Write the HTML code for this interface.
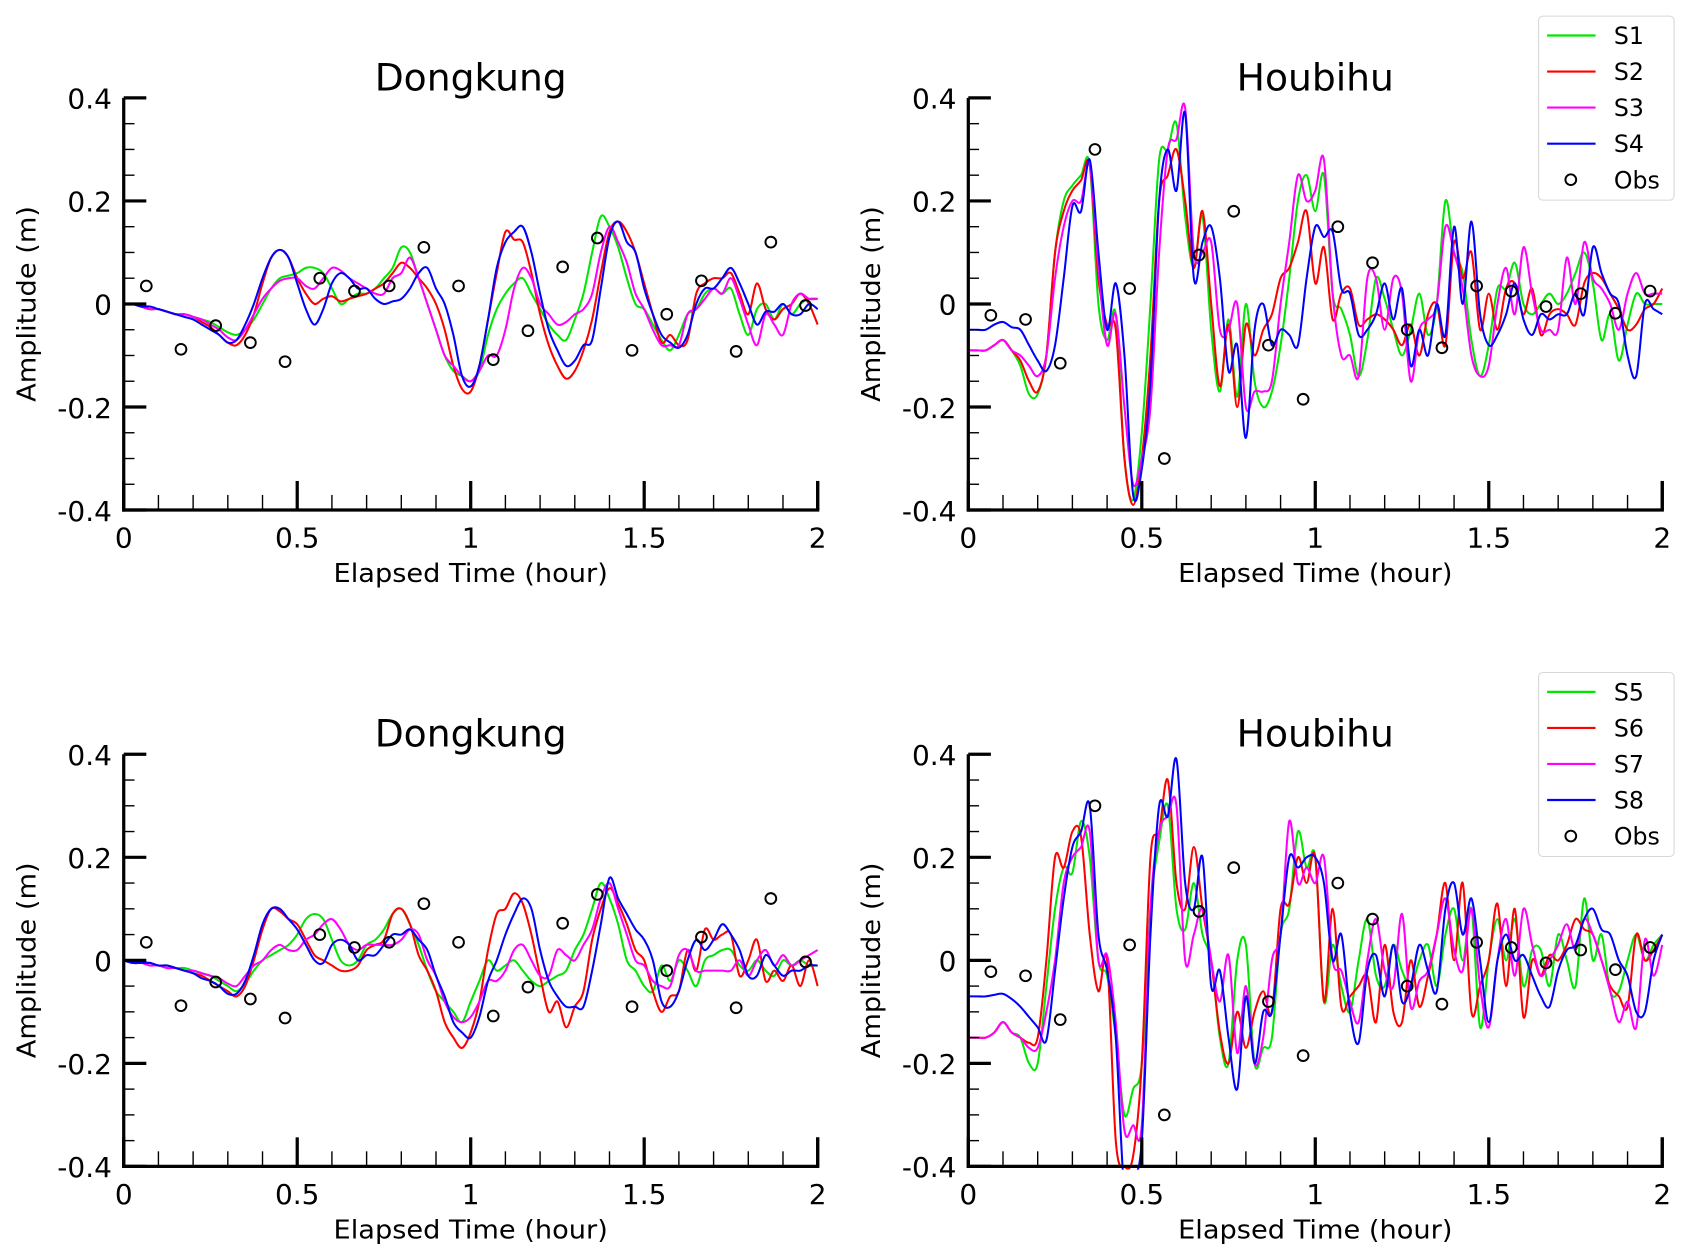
<!DOCTYPE html>
<html><head><meta charset="utf-8"><style>
html,body{margin:0;padding:0;background:#fff}
svg{display:block}
text{font-family:"DejaVu Sans","Liberation Sans",sans-serif;fill:#000}
</style></head><body>
<svg id="chart" width="1687" height="1260" viewBox="0 0 1568 1171" preserveAspectRatio="none" xmlns="http://www.w3.org/2000/svg">
<defs>
<clipPath id="clipTop"><rect x="115" y="88" width="648" height="389"/></clipPath>
<clipPath id="clipBot"><rect x="115" y="698" width="648" height="389"/></clipPath>
<clipPath id="clipTopR"><rect x="900" y="88" width="648" height="389"/></clipPath>
<clipPath id="clipBotR"><rect x="900" y="698" width="648" height="389"/></clipPath>
</defs>
</svg>
<script>
// ---- data ----
const dt = 0.025;
const obsTimes = [0.065,0.165,0.265,0.365,0.465,0.565,0.665,0.765,0.865,0.965,1.065,1.165,1.265,1.365,1.465,1.565,1.665,1.765,1.865,1.965];
const obsDongkung = [0.035,-0.088,-0.042,-0.075,-0.112,0.05,0.025,0.035,0.11,0.035,-0.108,-0.052,0.072,0.128,-0.09,-0.02,0.045,-0.092,0.12,-0.003];
const obsHoubihu = [-0.022,-0.03,-0.115,0.3,0.03,-0.3,0.095,0.18,-0.08,-0.185,0.15,0.08,-0.05,-0.085,0.035,0.025,-0.005,0.02,-0.018,0.025];
const xTicks = [0,0.5,1,1.5,2];
const xTickLabels = ["0","0.5","1","1.5","2"];
const yTicks = [0.4,0.2,0,-0.2,-0.4];
const yTickLabels = ["0.4","0.2","0","-0.2","-0.4"];

const dkS1 = [0,0,-0.005,-0.01,-0.01,-0.015,-0.02,-0.02,-0.025,-0.03,
 -0.035,-0.045,-0.055,-0.06,-0.05,-0.03,0.0,0.03,0.05,0.055,
 0.06,0.07,0.07,0.06,0.03,0.0,0.01,0.02,0.02,0.03,
 0.05,0.07,0.11,0.1,0.05,0.0,-0.05,-0.1,-0.13,-0.14,
 -0.15,-0.13,-0.06,-0.01,0.02,0.04,0.05,0.02,-0.01,-0.04,
 -0.06,-0.07,-0.03,0.02,0.1,0.17,0.15,0.11,0.05,0.0,
 -0.01,-0.04,-0.07,-0.09,-0.06,-0.02,-0.01,0.02,0.03,0.02,
 0.03,-0.02,-0.06,-0.01,0.0,-0.03,0.0,-0.02,0.0,0.01,0.01];
const dkS2 = [0,0,-0.005,-0.01,-0.01,-0.015,-0.02,-0.02,-0.025,-0.035,
 -0.045,-0.06,-0.075,-0.08,-0.06,-0.02,0.04,0.09,0.105,0.09,
 0.05,0.02,0.0,0.01,0.015,0.005,0.01,0.015,0.02,0.03,
 0.04,0.06,0.08,0.07,0.05,0.03,0.0,-0.05,-0.12,-0.165,
 -0.17,-0.12,-0.03,0.06,0.14,0.125,0.12,0.06,-0.02,-0.08,
 -0.12,-0.145,-0.13,-0.09,-0.03,0.06,0.14,0.16,0.14,0.1,
 0.04,-0.02,-0.075,-0.06,-0.08,-0.07,0.02,0.04,0.05,0.05,
 0.06,0.02,-0.02,0.04,-0.01,-0.03,-0.01,0.0,0.02,0.0,-0.04];
const dkS3 = [0,0,-0.005,-0.01,-0.01,-0.015,-0.02,-0.02,-0.025,-0.03,
 -0.04,-0.05,-0.065,-0.07,-0.05,-0.02,0.01,0.03,0.045,0.05,
 0.05,0.035,0.03,0.05,0.07,0.065,0.05,0.04,0.03,0.02,
 0.02,0.05,0.06,0.09,0.05,0.0,-0.05,-0.1,-0.12,-0.14,
 -0.15,-0.13,-0.1,-0.1,-0.05,0.03,0.07,0.05,0.0,-0.02,
 -0.04,-0.035,-0.02,-0.01,0.02,0.1,0.15,0.12,0.08,0.02,
 -0.01,-0.05,-0.08,-0.08,-0.08,-0.02,-0.01,0.01,0.03,0.02,
 0.05,0.01,-0.04,-0.08,-0.02,-0.04,-0.06,0.0,0.02,0.01,0.01];
const dkS4 = [0,0,-0.005,-0.005,-0.01,-0.015,-0.02,-0.025,-0.03,-0.04,
 -0.05,-0.06,-0.075,-0.07,-0.04,0.0,0.05,0.09,0.105,0.09,
 0.04,-0.01,-0.04,-0.01,0.04,0.06,0.05,0.03,0.03,0.01,
 0.0,0.005,0.01,0.03,0.06,0.07,0.03,0.0,-0.06,-0.14,
 -0.16,-0.12,-0.03,0.07,0.12,0.14,0.15,0.1,0.02,-0.05,
 -0.09,-0.12,-0.11,-0.08,-0.07,0.03,0.13,0.16,0.12,0.1,
 0.03,-0.02,-0.06,-0.075,-0.085,-0.06,0.0,0.03,0.03,0.05,
 0.07,0.04,0.0,-0.04,-0.015,-0.015,0.0,-0.02,-0.02,0.0,-0.01];

const hbS1 = [-0.09,-0.09,-0.09,-0.08,-0.07,-0.09,-0.12,-0.175,-0.175,-0.1,
 0.1,0.2,0.23,0.25,0.27,0.0,-0.07,-0.02,-0.3,-0.38,
 -0.25,0.0,0.28,0.3,0.35,0.17,0.07,0.17,-0.05,-0.17,
 -0.03,-0.18,0.0,-0.15,-0.2,-0.17,-0.08,0.05,0.2,0.25,
 0.18,0.25,0.02,-0.01,-0.06,-0.14,-0.07,0.05,0.01,-0.05,
 -0.1,-0.05,0.02,-0.06,0.0,0.2,0.1,0.06,-0.07,-0.14,
 -0.08,0.03,0.03,0.08,0.0,-0.02,0.0,0.02,0.0,0.02,
 0.06,0.1,0.04,-0.07,-0.02,-0.11,-0.04,0.02,0.0,0.0,0.0];
const hbS2 = [-0.09,-0.09,-0.09,-0.08,-0.07,-0.09,-0.11,-0.15,-0.17,-0.1,
 0.1,0.18,0.22,0.24,0.27,0.05,-0.04,-0.05,-0.3,-0.39,
 -0.3,-0.1,0.2,0.25,0.3,0.2,0.07,0.18,0.0,-0.16,
 -0.04,-0.2,-0.04,-0.1,-0.05,-0.02,0.05,0.07,0.12,0.18,
 0.04,0.11,-0.03,0.02,0.03,-0.04,-0.03,-0.02,-0.03,-0.05,
 -0.08,-0.04,-0.1,-0.02,0.0,-0.08,0.12,0.05,0.1,-0.05,
 0.02,-0.05,0.03,0.04,-0.02,0.03,-0.06,-0.02,-0.01,-0.02,
 -0.04,0.04,0.06,0.05,0.02,-0.01,-0.05,-0.04,-0.01,0.0,0.03];
const hbS3 = [-0.09,-0.09,-0.09,-0.08,-0.07,-0.09,-0.1,-0.12,-0.14,-0.1,
 0.05,0.15,0.2,0.2,0.27,0.07,-0.08,-0.02,-0.2,-0.35,
 -0.3,-0.2,0.1,0.3,0.32,0.38,0.1,0.1,0.12,-0.05,
 -0.05,0.0,-0.2,-0.17,-0.17,-0.15,0.0,0.12,0.25,0.2,
 0.22,0.28,0.02,-0.1,-0.1,-0.14,0.05,0.05,-0.05,0.05,
 0.02,-0.15,-0.05,-0.03,0.0,0.15,0.1,0.03,-0.1,-0.14,
 -0.12,0.0,0.07,-0.02,0.11,0.02,-0.05,-0.05,-0.05,0.09,
 0.0,0.12,0.05,0.03,0.0,-0.05,0.02,0.06,0.02,0.02,0.02];
const hbS4 = [-0.05,-0.05,-0.05,-0.04,-0.035,-0.045,-0.05,-0.08,-0.11,-0.13,
 -0.08,0.05,0.19,0.18,0.28,0.1,-0.05,0.04,-0.1,-0.37,
 -0.32,-0.15,0.2,0.3,0.22,0.37,0.05,0.12,0.15,0.05,
 -0.13,-0.08,-0.26,-0.05,0.0,-0.08,-0.05,-0.06,-0.08,0.05,
 0.15,0.13,0.14,0.03,0.02,-0.06,-0.05,-0.02,0.04,-0.03,
 0.03,-0.12,-0.05,-0.1,0.0,-0.06,0.15,0.0,0.16,-0.02,
 -0.08,-0.06,-0.02,0.04,-0.03,-0.06,-0.02,-0.03,-0.02,-0.02,
 0.02,-0.02,0.11,0.06,0.02,0.0,-0.1,-0.14,0.0,-0.01,-0.02];

const dkS5 = [0,-0.005,-0.005,-0.005,-0.01,-0.01,-0.015,-0.015,-0.02,-0.025,
 -0.03,-0.04,-0.05,-0.06,-0.045,-0.02,0.0,0.01,0.02,0.03,
 0.05,0.08,0.09,0.08,0.04,0.0,-0.01,0.0,0.03,0.04,
 0.06,0.09,0.1,0.07,0.03,-0.02,-0.06,-0.08,-0.1,-0.12,
 -0.08,-0.04,0.0,-0.02,-0.01,0.0,-0.02,-0.04,-0.05,-0.04,
 -0.03,-0.02,0.02,0.05,0.1,0.15,0.12,0.07,0.0,-0.02,
 -0.05,-0.06,-0.01,-0.04,0.0,-0.02,-0.05,0.0,0.01,0.02,
 0.02,-0.01,-0.02,0.0,-0.02,-0.03,0.0,-0.01,0.0,-0.01,-0.01];
const dkS6 = [0,-0.005,-0.005,-0.005,-0.01,-0.01,-0.015,-0.02,-0.025,-0.03,
 -0.04,-0.05,-0.06,-0.07,-0.05,0.0,0.06,0.1,0.095,0.08,
 0.07,0.04,0.01,0.0,-0.01,-0.02,-0.02,-0.01,0.02,0.03,
 0.04,0.09,0.1,0.07,0.01,-0.02,-0.06,-0.12,-0.15,-0.17,
 -0.14,-0.08,0.02,0.09,0.1,0.13,0.11,0.05,-0.03,-0.1,
 -0.08,-0.13,-0.09,-0.06,0.04,0.1,0.14,0.11,0.07,0.02,
 0.0,-0.06,-0.1,-0.07,-0.06,0.02,-0.02,0.06,0.04,0.05,
 0.05,-0.03,0.0,0.04,-0.04,-0.02,-0.04,-0.01,-0.05,0.0,-0.05];
const dkS7 = [0,-0.005,-0.005,-0.01,-0.01,-0.015,-0.015,-0.02,-0.02,-0.025,
 -0.03,-0.035,-0.045,-0.05,-0.03,-0.01,0.0,0.02,0.03,0.02,
 0.02,0.04,0.05,0.07,0.08,0.06,0.03,0.02,0.03,0.03,
 0.03,0.03,0.04,0.06,0.05,0.0,-0.03,-0.08,-0.11,-0.12,
 -0.11,-0.08,-0.04,-0.04,-0.02,0.02,0.03,0.0,-0.03,-0.03,
 0.02,0.01,0.0,0.03,0.06,0.12,0.15,0.1,0.05,0.0,
 -0.01,-0.04,-0.05,-0.05,0.01,0.02,-0.02,-0.02,-0.02,-0.02,
 -0.02,0.0,-0.03,0.0,0.02,-0.01,0.01,-0.01,0.0,0.01,0.02];
const dkS8 = [0,-0.005,-0.005,-0.005,-0.01,-0.01,-0.015,-0.02,-0.025,-0.035,
 -0.04,-0.05,-0.065,-0.065,-0.04,0.01,0.07,0.1,0.1,0.08,
 0.06,0.03,0.0,-0.005,0.03,0.04,0.03,0.0,0.01,0.01,
 0.03,0.05,0.05,0.06,0.04,0.02,-0.03,-0.07,-0.12,-0.14,
 -0.15,-0.11,-0.04,0.0,0.05,0.09,0.12,0.1,0.02,-0.04,
 -0.07,-0.09,-0.09,-0.09,-0.02,0.07,0.16,0.12,0.09,0.06,
 0.04,0.0,-0.08,-0.09,-0.06,0.0,0.04,0.02,0.04,0.07,
 0.05,0.02,-0.03,-0.03,0.01,-0.01,-0.03,-0.02,-0.02,-0.01,-0.01];

const hbS5 = [-0.15,-0.15,-0.15,-0.14,-0.12,-0.14,-0.15,-0.2,-0.2,-0.05,
 0.1,0.18,0.17,0.27,0.2,0.0,-0.03,-0.15,-0.3,-0.25,
 -0.2,0.1,0.23,0.3,0.1,0.06,0.15,0.05,0.0,-0.15,
 -0.2,0.0,0.03,-0.2,-0.17,-0.15,0.05,0.1,0.25,0.18,
 0.2,-0.08,0.03,-0.05,-0.1,0.0,0.08,-0.03,-0.05,0.03,
 -0.02,-0.05,0.0,0.03,-0.05,0.05,0.1,0.0,0.1,-0.13,
 0.0,0.08,0.0,0.08,-0.05,0.02,0.02,-0.05,0.05,0.0,
 -0.05,0.12,0.0,0.05,-0.06,-0.06,0.0,0.05,0.0,0.03,0.05];
const hbS6 = [-0.15,-0.15,-0.15,-0.14,-0.12,-0.14,-0.15,-0.16,-0.15,0.0,
 0.2,0.18,0.25,0.24,0.05,-0.06,0.0,-0.35,-0.4,-0.38,
 -0.2,0.2,0.25,0.35,0.15,0.1,0.22,0.1,0.0,-0.14,
 -0.2,-0.1,-0.17,-0.1,-0.06,-0.1,0.1,0.11,0.2,0.15,
 0.2,-0.08,0.1,-0.09,-0.07,-0.05,-0.03,-0.12,0.03,-0.1,
 -0.12,0.0,-0.09,-0.03,0.05,0.15,0.0,0.15,-0.1,-0.05,
 0.0,0.11,-0.05,0.1,-0.11,0.0,-0.03,0.01,0.0,0.03,
 0.08,0.06,0.05,0.0,-0.05,-0.07,-0.09,0.05,0.0,0.02,0.05];
const hbS7 = [-0.15,-0.15,-0.15,-0.14,-0.12,-0.14,-0.15,-0.17,-0.17,-0.1,
 0.0,0.15,0.2,0.22,0.25,0.0,0.01,-0.12,-0.33,-0.32,
 -0.32,0.1,0.25,0.28,0.3,0.0,0.05,0.1,0.0,-0.08,
 0.01,-0.18,-0.05,-0.2,-0.15,0.0,0.05,0.27,0.15,0.18,
 0.15,0.2,0.0,-0.02,-0.08,-0.12,0.0,0.08,-0.02,-0.05,
 0.09,-0.09,-0.04,-0.02,0.05,0.12,0.02,-0.02,0.1,-0.05,
 -0.13,0.0,0.08,-0.03,0.1,0.03,-0.03,0.0,0.03,0.07,
 0.02,0.08,0.05,0.0,-0.06,-0.12,-0.08,-0.13,0.04,-0.03,0.03];
const hbS8 = [-0.07,-0.07,-0.07,-0.067,-0.065,-0.075,-0.09,-0.11,-0.13,-0.155,
 -0.02,0.12,0.22,0.25,0.3,0.05,-0.02,-0.15,-0.45,-0.42,
 -0.35,0.05,0.3,0.28,0.39,0.15,0.1,0.2,-0.05,-0.02,
 -0.15,-0.25,-0.07,-0.2,-0.1,-0.1,0.05,0.2,0.18,0.2,
 0.2,0.15,0.0,0.05,-0.1,-0.16,-0.02,0.01,-0.07,0.03,
 -0.08,-0.05,0.03,-0.02,-0.06,0.1,0.15,0.05,0.12,0.0,
 -0.12,0.0,0.05,0.0,0.01,-0.03,-0.07,-0.09,-0.02,0.02,
 0.03,0.08,0.1,0.06,0.05,0.0,-0.03,-0.1,-0.1,0.0,0.05];

const colors = {g:"#00e600", r:"#ff0000", m:"#ff00ff", b:"#0000ff"};

// ---- drawing ----
const svg = document.getElementById('chart');
const NS = "http://www.w3.org/2000/svg";
function mk(tag, attrs, parent){
  const e = document.createElementNS(NS, tag);
  for (const k in attrs) e.setAttribute(k, attrs[k]);
  (parent||svg).appendChild(e);
  return e;
}
function smoothPath(pts){
  let d = "M"+pts[0][0].toFixed(2)+","+pts[0][1].toFixed(2);
  for (let i=0;i<pts.length-1;i++){
    const p0 = pts[Math.max(0,i-1)], p1 = pts[i], p2 = pts[i+1], p3 = pts[Math.min(pts.length-1,i+2)];
    const c1x = p1[0]+(p2[0]-p0[0])/6, c1y = p1[1]+(p2[1]-p0[1])/6;
    const c2x = p2[0]-(p3[0]-p1[0])/6, c2y = p2[1]-(p3[1]-p1[1])/6;
    d += " C"+c1x.toFixed(2)+","+c1y.toFixed(2)+" "+c2x.toFixed(2)+","+c2y.toFixed(2)+" "+p2[0].toFixed(2)+","+p2[1].toFixed(2);
  }
  return d;
}

function panel(px, py, title, series, obs, clipId, key){
  const x0 = px, x1 = px+645, yTop = py, yBot = py+383;
  const sx = t => x0 + (t/2)*(x1-x0);
  const sy = v => yTop + (0.4 - v)/0.8*(yBot-yTop);
  const g = mk('g', {});
  
  
  const tt = mk('text', {x:(x0+x1)/2, y:py-7, 'text-anchor':'middle', 'font-size':35}, g);
  tt.textContent = title;
  
  
  const sg = mk('g', {'clip-path':'url(#'+clipId+')'}, g);
  series.forEach(s => {
    const pts = s.vals.map((v,i)=>[sx(i*dt), sy(v)]);
    const p = mk('path', {d:smoothPath(pts), fill:'none', stroke:s.color, 'stroke-width':1.9, 'stroke-linejoin':'round'}, sg);
    
    
  });
  obs.forEach((v,i)=>{
    const c = mk('circle', {cx:sx(obsTimes[i]), cy:sy(v), r:5, fill:'none', stroke:'#000', 'stroke-width':1.8}, g);
    
    
  });
  const ya = mk('line', {x1:x0, y1:yTop, x2:x0, y2:yBot+1.5, stroke:'#000', 'stroke-width':3}, g);
  
  
  const xa = mk('line', {x1:x0-1.5, y1:yBot, x2:x1+1.5, y2:yBot, stroke:'#000', 'stroke-width':3}, g);
  
  
  mk('line', {x1:x1, y1:yBot, x2:x1, y2:yBot-27, stroke:'#000', 'stroke-width':3}, g);
  for (let k=0;k<=16;k++){
    const v = -0.4 + k*0.05, y = sy(v);
    const major = (k%4===0);
    mk('line', {x1:x0, y1:y, x2:x0+(major?21:10), y2:y, stroke:'#000', 'stroke-width':major?3:1.3}, g);
  }
  yTicks.forEach((v,i)=>{
    const t = mk('text', {x:x0-11, y:sy(v)+10, 'text-anchor':'end', 'font-size':26}, g);
    t.textContent = yTickLabels[i];
    
    
  });
  for (let k=0;k<=20;k++){
    const t = k*0.1, x = sx(t);
    const major = (k%5===0);
    mk('line', {x1:x, y1:yBot, x2:x, y2:yBot-(major?27:14), stroke:'#000', 'stroke-width':major?3:1.3}, g);
  }
  xTicks.forEach((t,i)=>{
    const tx = mk('text', {x:sx(t), y:yBot+35, 'text-anchor':'middle', 'font-size':26}, g);
    tx.textContent = xTickLabels[i];
    
    
  });
  const xl = mk('text', {x:(x0+x1)/2, y:yBot+67, 'text-anchor':'middle', 'font-size':24, textLength:255, lengthAdjust:'spacingAndGlyphs'}, g);
  xl.textContent = 'Elapsed Time (hour)';
  
  
  const cy = (yTop+yBot)/2;
  const lx = px-91;
  const yl = mk('text', {x:lx, y:cy+9, 'text-anchor':'middle', 'font-size':24, textLength:182, lengthAdjust:'spacingAndGlyphs', transform:'rotate(-90 '+lx+' '+cy+')'}, g);
  yl.textContent = 'Amplitude (m)';
  
  
}

function legend(y0, names, key){
  const g = mk('g', {});
  
  
  mk('rect', {x:1430, y:y0, width:126, height:171, rx:4, fill:'#fff', stroke:'#d8d8d8', 'stroke-width':1}, g);
  const cols = [colors.g, colors.r, colors.m, colors.b];
  names.forEach((n,i)=>{
    const y = y0+18+i*33.5;
    const l = mk('line', {x1:1438, y1:y, x2:1483, y2:y, stroke:cols[i], 'stroke-width':2}, g);
    
    
    const t = mk('text', {x:1500, y:y+8, 'font-size':22}, g);
    t.textContent = n;
    
    
  });
  const oy = y0+18+4*33.5;
  const c = mk('circle', {cx:1460, cy:oy, r:5, fill:'none', stroke:'#000', 'stroke-width':1.8}, g);
  
  
  const t = mk('text', {x:1500, y:oy+8, 'font-size':22}, g);
  t.textContent = 'Obs';
  
  
}

panel(115, 91, 'Dongkung', [
  {name:'S1', vals:dkS1, color:colors.g},{name:'S2', vals:dkS2, color:colors.r},
  {name:'S3', vals:dkS3, color:colors.m},{name:'S4', vals:dkS4, color:colors.b}], obsDongkung, 'clipTop', 'dongkung-top');
panel(900, 91, 'Houbihu', [
  {name:'S1', vals:hbS1, color:colors.g},{name:'S2', vals:hbS2, color:colors.r},
  {name:'S3', vals:hbS3, color:colors.m},{name:'S4', vals:hbS4, color:colors.b}], obsHoubihu, 'clipTopR', 'houbihu-top');
panel(115, 701, 'Dongkung', [
  {name:'S5', vals:dkS5, color:colors.g},{name:'S6', vals:dkS6, color:colors.r},
  {name:'S7', vals:dkS7, color:colors.m},{name:'S8', vals:dkS8, color:colors.b}], obsDongkung, 'clipBot', 'dongkung-bottom');
panel(900, 701, 'Houbihu', [
  {name:'S5', vals:hbS5, color:colors.g},{name:'S6', vals:hbS6, color:colors.r},
  {name:'S7', vals:hbS7, color:colors.m},{name:'S8', vals:hbS8, color:colors.b}], obsHoubihu, 'clipBotR', 'houbihu-bottom');
legend(15, ['S1','S2','S3','S4'], 'legend-top');
legend(625, ['S5','S6','S7','S8'], 'legend-bottom');
</script>
</body></html>
